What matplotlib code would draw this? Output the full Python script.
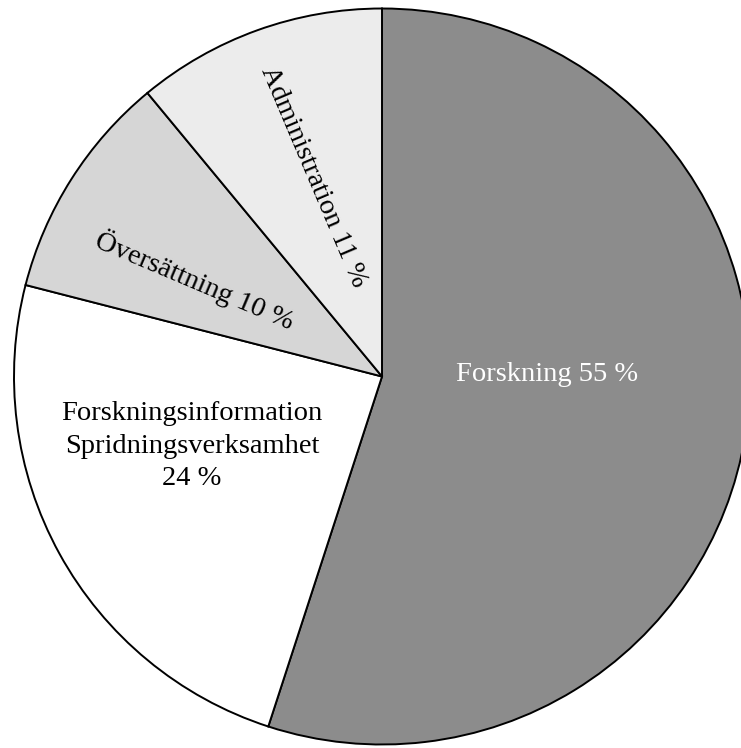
import matplotlib
matplotlib.use('Agg')
import matplotlib.pyplot as plt

plt.rcParams['font.family'] = ['Liberation Serif', 'DejaVu Serif']

names = ['Forskning', 'Forskningsinformation\nSpridningsverksamhet', 'Översättning', 'Administration']
shares = [55, 24, 10, 11]
colors = ['#8c8c8c', '#ffffff', '#d6d6d6', '#ececec']

W, H = 741, 748
fig = plt.figure(figsize=(W / 100, H / 100), dpi=100)
ax = fig.add_axes([0, 0, 1, 1])

cx, cy, r = 382, H - 376.5, 368
ax.pie(shares, colors=colors, startangle=90, counterclock=False,
       center=(cx, cy), radius=r,
       wedgeprops=dict(edgecolor='black', linewidth=1.4))
ax.set_xlim(0, W)
ax.set_ylim(0, H)
ax.set_aspect('equal', adjustable='box')
ax.axis('off')

# label placement (pixel coords), rotation, colour
lab_pos = [(547, 374), (192, 446), (195, 280), (313, 177)]
lab_rot = [0, 0, -23, -67]
lab_col = ['white', 'black', 'black', 'black']
for n, s, (px, py), rot, c in zip(names, shares, lab_pos, lab_rot, lab_col):
    if '\n' in n:
        txt = n + '\n' + f'{s} %'
    else:
        txt = f'{n} {s} %'
    ax.text(px, H - py, txt, ha='center', va='center', rotation=rot,
            rotation_mode='anchor', color=c, fontsize=20.5, linespacing=1.37)

fig.savefig('out.png', dpi=100)
